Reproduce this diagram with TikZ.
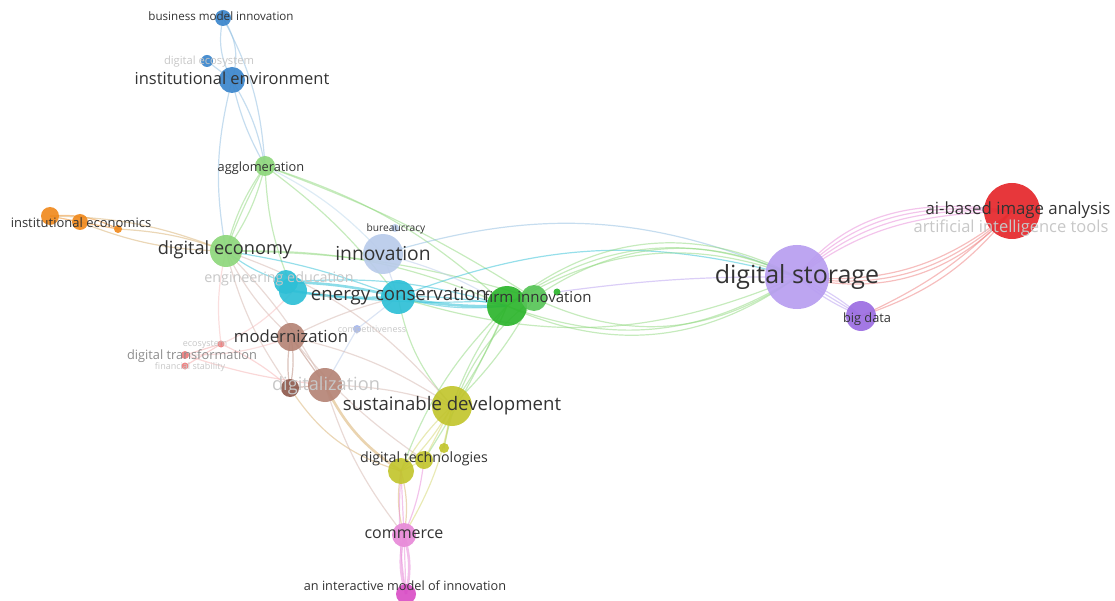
\documentclass[tikz,border=0pt]{standalone}
\usepackage{fontspec}
\setsansfont{Open Sans}
\newcommand\myfs[1]{\fontsize{#1}{#1}\selectfont}
\definecolor{cBlue}{HTML}{3B86CC}
\definecolor{cBlueL}{HTML}{8DBCE0}
\definecolor{cGreenL}{HTML}{8ED77C}
\definecolor{cOrange}{HTML}{F08A1E}
\definecolor{cCyan}{HTML}{2EBFD6}
\definecolor{cLav}{HTML}{B9CBEA}
\definecolor{cGreen}{HTML}{2DB52D}
\definecolor{cBrown}{HTML}{B58476}
\definecolor{cBrownD}{HTML}{8E5A4D}
\definecolor{cRedP}{HTML}{EE7E7E}
\definecolor{cYel}{HTML}{C2C52E}
\definecolor{cPink}{HTML}{E78AD8}
\definecolor{cMag}{HTML}{D94FC6}
\definecolor{cPurp}{HTML}{B79DF0}
\definecolor{cPurpD}{HTML}{9B6DE2}
\definecolor{cRed}{HTML}{E5262A}
\definecolor{cTan}{HTML}{D8B070}
\tikzset{
  dot/.style={circle, fill=#1, draw=none, inner sep=0pt, fill opacity=.92},
  lbl/.style={font=\sffamily, text=black!80, inner sep=0pt},
  fade/.style={text=black!22},
  ed/.style={draw=#1, line width=1.2pt, draw opacity=.5},
  edt/.style={draw=#1, line width=2.6pt, draw opacity=.55},
}
\begin{document}
\begin{tikzpicture}[x=1pt,y=-1pt]
\useasboundingbox (0,0) rectangle (1115,601);
% positions
\coordinate (pbmi) at (223,18);
\coordinate (peco) at (207,61);
\coordinate (pie) at (232,80);
\coordinate (pagg) at (265,166);
\coordinate (po1) at (50,216);
\coordinate (po2) at (80,222);
\coordinate (po3) at (118,229);
\coordinate (pdec) at (226,251);
\coordinate (peng1) at (286,282);
\coordinate (peng2) at (293,291);
\coordinate (pinn) at (383,254);
\coordinate (pbur) at (395,228);
\coordinate (pec) at (398,297);
\coordinate (pfi) at (507,306);
\coordinate (pfi2) at (534,298);
\coordinate (pfi3) at (557,292);
\coordinate (pmod) at (291,337);
\coordinate (pcomp) at (357,329);
\coordinate (pdt1) at (185,355);
\coordinate (pdt2) at (221,344);
\coordinate (pdt3) at (185,366);
\coordinate (pdig1) at (290,388);
\coordinate (pdig2) at (325,385);
\coordinate (psd) at (452,406);
\coordinate (ptech) at (401,471);
\coordinate (ptech2) at (424,460);
\coordinate (ptech3) at (444,448);
\coordinate (pcom) at (404,535);
\coordinate (paim) at (406,594);
\coordinate (pds) at (797,277);
\coordinate (pbd) at (861,316);
\coordinate (pai) at (1012,211);
% ---------- edges ----------
% blue cluster
\draw[ed=cBlueL] (pbmi) to[bend left=25] (pie);
\draw[ed=cBlueL] (pbmi) to[bend right=20] (pie);
\draw[ed=cBlueL] (pbmi) to[bend left=12] (pagg);
\draw[ed=cBlueL] (peco) -- (pie);
\draw[ed=cBlueL] (pie) to[bend left=10] (pagg);
\draw[ed=cBlueL] (pie) to[bend right=8] (pagg);
\draw[ed=cBlueL] (pie) to[bend right=12] (pdec);
\draw[ed=cBlueL!60] (pagg) to[bend left=10] (pinn);
% orange
\draw[ed=cOrange] (po1) -- (po2);
\draw[ed=cOrange] (po2) -- (po3);
\draw[ed=cOrange] (po1) to[bend left=15] (po3);
\draw[ed=cTan] (po1) to[bend left=10] (pdec);
\draw[ed=cTan] (po2) to[bend right=10] (pdec);
\draw[ed=cTan] (po3) to[bend left=8] (pdec);
% light green
\draw[ed=cGreenL] (pagg) to[bend left=10] (pdec);
\draw[ed=cGreenL] (pagg) to[bend right=10] (pdec);
\draw[ed=cGreenL] (pagg) to[bend right=4] (pdec);
\draw[ed=cGreenL] (pagg) to[bend left=12] (pfi);
\draw[ed=cGreenL] (pagg) to[bend left=6] (pfi2);
\draw[ed=cGreenL] (pagg) to[bend left=8] (pec);
\draw[ed=cGreenL] (pagg) to[bend right=10] (peng2);
\draw[ed=cGreenL] (pdec) to[bend left=12] (pfi);
\draw[ed=cGreenL] (pdec) to[bend left=8] (pfi2);
% cyan
\draw[edt=cCyan] (peng2) to[bend right=6] (pec);
\draw[edt=cCyan] (peng1) to[bend left=6] (pec);
\draw[ed=cCyan] (pdec) to[bend left=6] (pec);
\draw[ed=cCyan] (pdec) to[bend right=10] (peng1);
\draw[edt=cCyan] (pec) to[bend right=6] (pfi);
\draw[ed=cCyan] (pec) to[bend left=6] (pfi);
\draw[ed=cCyan] (pec) to[bend right=10] (pfi);
\draw[ed=cCyan] (peng1) to[bend left=10] (pfi);
\draw[ed=cCyan] (peng2) to[bend right=6] (pfi2);
\draw[ed=cCyan] (pec) to[bend left=18] (pds);
% lavender
\draw[ed=cBlueL] (pinn) to[bend left=20] (pds);
\draw[ed=cLav] (pinn) -- (pec);
\draw[ed=cLav] (pinn) to[bend left=8] (pfi);
\draw[ed=cLav] (pcomp) -- (pec);
\draw[ed=cLav] (pcomp) -- (pdig2);
% green to storage
\draw[ed=cGreenL] (pfi) to[bend left=34] (pds);
\draw[ed=cGreenL] (pfi) to[bend left=30] (pds);
\draw[ed=cGreenL] (pfi2) to[bend left=30] (pds);
\draw[ed=cGreenL] (pfi) to[bend left=26] (pds);
\draw[ed=cGreenL] (pfi) to[bend right=26] (pds);
\draw[ed=cGreenL] (pfi) to[bend right=30] (pds);
\draw[ed=cGreenL] (pfi2) to[bend right=30] (pds);
\draw[ed=cGreenL] (pec) to[bend right=20] (pds);
\draw[ed=cPurp] (pfi3) to[bend left=4] (pds);
% green to south
\draw[ed=cGreenL] (pfi) to[bend right=8] (psd);
\draw[ed=cGreenL] (pfi) to[bend left=6] (psd);
\draw[ed=cGreenL] (pfi2) to[bend left=8] (psd);
\draw[ed=cGreenL] (pfi) to[bend right=12] (ptech);
\draw[ed=cGreenL] (pfi) to[bend left=4] (ptech2);
\draw[ed=cGreenL] (pfi2) to[bend right=20] (ptech3);
\draw[ed=cGreenL] (pec) to[bend right=15] (psd);
% purple / red
\draw[ed=cPurp] (pds) to[bend left=8] (pbd);
\draw[ed=cPurp] (pds) to[bend right=8] (pbd);
\draw[ed=cPurp] (pds) -- (pbd);
\draw[ed=cPink] (pds) to[out=52, in=172] (pai);
\draw[ed=cPink] (pds) to[out=47, in=175] (pai);
\draw[ed=cPink] (pds) to[out=42, in=178] (pai);
\draw[ed=cPink] (pds) to[out=37, in=182] (pai);
\draw[ed=cRedP] (pds) to[bend right=22] (pai);
\draw[ed=cRedP] (pds) to[bend right=26] (pai);
\draw[ed=cRedP] (pds) to[bend right=30] (pai);
\draw[ed=cRedP] (pbd) to[bend right=10] (pai);
\draw[ed=cRedP] (pbd) to[bend right=16] (pai);
% brown
\draw[ed=cBrown] (pmod) to[bend left=10] (pdig1);
\draw[ed=cBrown] (pmod) to[bend right=10] (pdig1);
\draw[ed=cBrown] (pmod) -- (pdig2);
\draw[ed=cBrown!60] (pmod) to[bend left=10] (pdec);
\draw[ed=cBrown!60] (pdec) to[bend right=10] (pdig1);
\draw[ed=cBrown!60] (pdec) to[bend left=8] (pdig2);
\draw[ed=cBrown!60] (pdec) to[bend left=15] (psd);
\draw[ed=cBrown] (pdig1) -- (pdig2);
\draw[edt=cTan] (pdig2) to[bend right=15] (ptech);
\draw[ed=cTan] (pdig1) to[bend right=20] (ptech);
\draw[ed=cBrown!60] (pdig2) to[bend left=8] (psd);
\draw[ed=cBrown!60] (pmod) to[bend left=10] (psd);
\draw[ed=cBrown!60] (pdig2) to[bend right=10] (pcom);
\draw[ed=cBrown!60] (pmod) to[bend right=8] (ptech2);
\draw[ed=cBrown!60] (pmod) to[bend left=6] (pec);
% digital transformation
\draw[ed=cRedP!70] (pdt1) -- (pdt2);
\draw[ed=cRedP!70] (pdt3) -- (pdt2);
\draw[ed=cRedP!60] (pdt2) to[bend left=8] (pdig1);
\draw[ed=cRedP!60] (pdt1) to[bend right=6] (pdig2);
\draw[ed=cRedP!50] (pdt2) to[bend left=10] (pdec);
\draw[ed=cRedP!50] (pdt1) to[bend right=10] (pmod);
\draw[ed=cRedP!50] (pdt2) to[bend right=12] (peng2);
% yellow / pink
\draw[ed=cYel!70] (psd) to[bend left=8] (ptech);
\draw[ed=cYel!70] (psd) to[bend right=8] (ptech);
\draw[ed=cYel!70] (psd) -- (ptech2);
\draw[ed=cYel!70] (psd) -- (ptech3);
\draw[ed=cYel!70] (psd) to[bend left=10] (pcom);
\draw[ed=cYel!60] (ptech2) -- (ptech);
\draw[ed=cTan] (ptech) to[bend left=12] (pcom);
\draw[ed=cTan] (ptech) to[bend right=12] (pcom);
\draw[ed=cPink] (ptech) -- (pcom);
\draw[ed=cPink] (ptech2) to[bend left=8] (pcom);
\draw[edt=cPink] (pcom) to[bend left=14] (paim);
\draw[edt=cPink] (pcom) to[bend right=14] (paim);
\draw[ed=cPink] (pcom) -- (paim);
\draw[ed=cPink] (ptech) to[bend right=6] (paim);
% ---------- nodes ----------
\node[dot=cBlue, minimum size=16pt] (bmi) at (pbmi) {};
\node[dot=cBlue, minimum size=12pt] (eco) at (peco) {};
\node[dot=cBlue, minimum size=26pt] (ie) at (pie) {};
\node[dot=cGreenL, minimum size=20pt] (agg) at (pagg) {};
\node[dot=cOrange, minimum size=18pt] (o1) at (po1) {};
\node[dot=cOrange, minimum size=16pt] (o2) at (po2) {};
\node[dot=cOrange, minimum size=8pt] (o3) at (po3) {};
\node[dot=cGreenL, minimum size=32pt] (dec) at (pdec) {};
\node[dot=cCyan, minimum size=24pt] (eng1) at (peng1) {};
\node[dot=cCyan, minimum size=28pt] (eng2) at (peng2) {};
\node[dot=cLav, minimum size=40pt] (inn) at (pinn) {};
\node[dot=cLav, minimum size=8pt] (bur) at (pbur) {};
\node[dot=cCyan, minimum size=34pt] (ec) at (pec) {};
\node[dot=cGreen, minimum size=40pt] (fi) at (pfi) {};
\node[dot=cGreen!80, minimum size=26pt] (fi2) at (pfi2) {};
\node[dot=cGreen, minimum size=7pt] (fi3) at (pfi3) {};
\node[dot=cBrown, minimum size=28pt] (mod) at (pmod) {};
\node[dot=cLav!90!blue, minimum size=8pt] (comp) at (pcomp) {};
\node[dot=cRedP, minimum size=8pt] (dt1) at (pdt1) {};
\node[dot=cRedP, minimum size=7pt] (dt2) at (pdt2) {};
\node[dot=cRedP, minimum size=7pt] (dt3) at (pdt3) {};
\node[dot=cBrownD, minimum size=18pt] (dig1) at (pdig1) {};
\node[dot=cBrown, minimum size=34pt] (dig2) at (pdig2) {};
\node[dot=cYel, minimum size=40pt] (sd) at (psd) {};
\node[dot=cYel, minimum size=26pt] (tech) at (ptech) {};
\node[dot=cYel, minimum size=18pt] (tech2) at (ptech2) {};
\node[dot=cYel, minimum size=10pt] (tech3) at (ptech3) {};
\node[dot=cPink, minimum size=24pt] (com) at (pcom) {};
\node[dot=cMag, minimum size=20pt] (aim) at (paim) {};
\node[dot=cPurp, minimum size=64pt] (ds) at (pds) {};
\node[dot=cPurpD, minimum size=30pt] (bd) at (pbd) {};
\node[dot=cRed, minimum size=56pt] (ai) at (pai) {};
% ---------- labels ----------
\node[lbl, font=\sffamily\myfs{11.6}] (lbmi) at (221,16) {business model innovation};
\node[lbl, fade, font=\sffamily\myfs{11.2}] (leco) at (209,62) {digital ecosystem};
\node[lbl, font=\sffamily\myfs{16.5}] (lie) at (232,78) {institutional environment};
\node[lbl, font=\sffamily\myfs{12.8}] (lagg) at (261,168) {agglomeration};
\node[lbl, font=\sffamily\myfs{13}] (lo) at (81,223) {institutional economics};
\node[lbl, font=\sffamily\myfs{18.2}] (ldec) at (225,250) {digital economy};
\node[lbl, fade, font=\sffamily\myfs{14.3}] (leng) at (279,279) {engineering education};
\node[lbl, font=\sffamily\myfs{10.2}] (lbur) at (396,229) {bureaucracy};
\node[lbl, font=\sffamily\myfs{19.3}] (linn) at (383,254) {innovation};
\node[lbl, font=\sffamily\myfs{18.6}] (lec) at (399,296) {energy conservation};
\node[lbl, font=\sffamily\myfs{15}] (lfi) at (538,297) {firm innovation};
\node[lbl, font=\sffamily\myfs{16.7}] (lmod) at (291,336) {modernization};
\node[lbl, fade, font=\sffamily\myfs{9}] (lcomp) at (372,330) {competitiveness};
\node[lbl, fade, font=\sffamily\myfs{9}] (ldtx) at (205,345) {ecosystem};
\node[lbl, text=black!45, font=\sffamily\myfs{12.8}] (ldt) at (192,356) {digital transformation};
\node[lbl, fade, font=\sffamily\myfs{9}] (lfin) at (190,367) {financial stability};
\node[lbl, fade, font=\sffamily\myfs{18.2}] (ldig) at (326,386) {digitalization};
\node[lbl, font=\sffamily\myfs{18.6}] (lsd) at (452,406) {sustainable development};
\node[lbl, font=\sffamily\myfs{14.2}] (ltech) at (424,459) {digital technologies};
\node[lbl, font=\sffamily\myfs{16}] (lcom) at (404,534) {commerce};
\node[lbl, font=\sffamily\myfs{12.7}] (laim) at (405,586) {an interactive model of innovation};
\node[lbl, font=\sffamily\myfs{25}] (lds) at (797,277) {digital storage};
\node[lbl, font=\sffamily\myfs{12.8}] (lbd) at (867,319) {big data};
\node[lbl, font=\sffamily\myfs{16.8}] (lai) at (1018,210) {ai-based image analysis};
\node[lbl, fade, font=\sffamily\myfs{16.5}] (laitools) at (1011,228) {artificial intelligence tools};
\end{tikzpicture}
\end{document}
